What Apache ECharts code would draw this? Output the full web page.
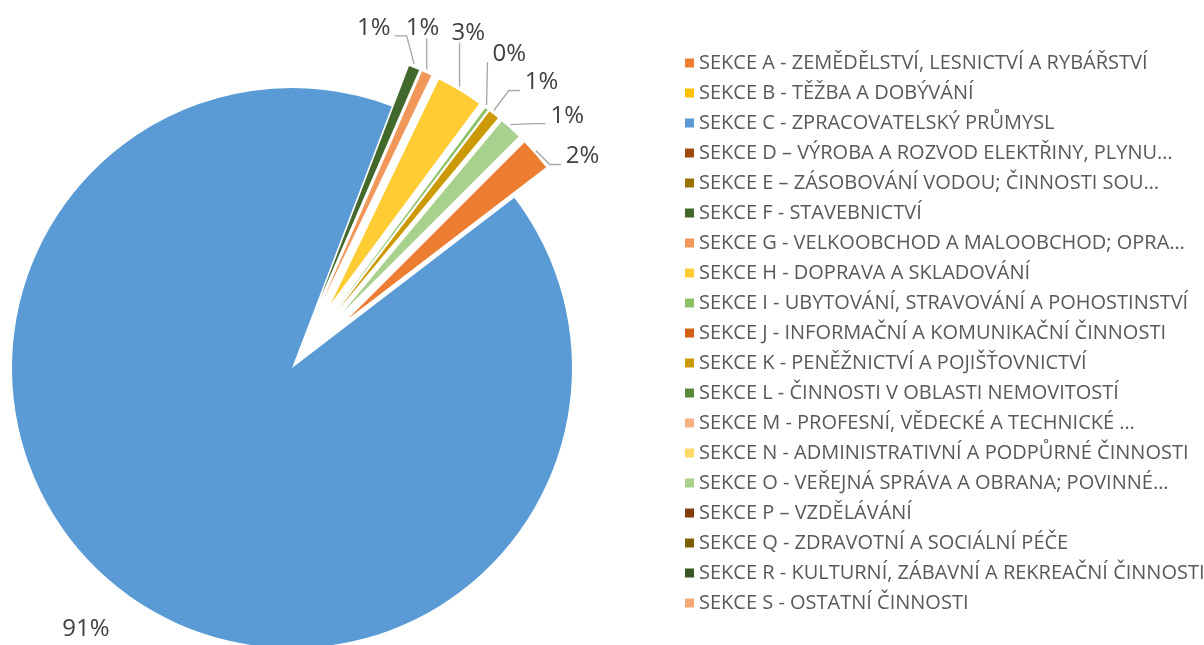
<!DOCTYPE html>
<html>
<head>
<meta charset="utf-8">
<script src="https://cdn.jsdelivr.net/npm/echarts@6/dist/echarts.min.js"></script>
<style>
  html, body { margin: 0; padding: 0; background: #ffffff; }
  #chart { width: 1204px; height: 645px; }
</style>
</head>
<body>
<div id="chart"></div>
<script>
// Sections of the economy (CZ-NACE) and their share of the total, in %
const categories = [
  'SEKCE A - ZEMĚDĚLSTVÍ, LESNICTVÍ A RYBÁŘSTVÍ',
  'SEKCE B - TĚŽBA A DOBÝVÁNÍ',
  'SEKCE C - ZPRACOVATELSKÝ PRŮMYSL',
  'SEKCE D – VÝROBA A ROZVOD ELEKTŘINY, PLYNU…',
  'SEKCE E – ZÁSOBOVÁNÍ VODOU; ČINNOSTI SOU…',
  'SEKCE F - STAVEBNICTVÍ',
  'SEKCE G - VELKOOBCHOD A MALOOBCHOD; OPRA…',
  'SEKCE H - DOPRAVA A SKLADOVÁNÍ',
  'SEKCE I - UBYTOVÁNÍ, STRAVOVÁNÍ A POHOSTINSTVÍ',
  'SEKCE J - INFORMAČNÍ A KOMUNIKAČNÍ ČINNOSTI',
  'SEKCE K - PENĚŽNICTVÍ A POJIŠŤOVNICTVÍ',
  'SEKCE L - ČINNOSTI V OBLASTI NEMOVITOSTÍ',
  'SEKCE M - PROFESNÍ, VĚDECKÉ A TECHNICKÉ …',
  'SEKCE N - ADMINISTRATIVNÍ A PODPŮRNÉ ČINNOSTI',
  'SEKCE O - VEŘEJNÁ SPRÁVA A OBRANA; POVINNÉ…',
  'SEKCE P – VZDĚLÁVÁNÍ',
  'SEKCE Q - ZDRAVOTNÍ A SOCIÁLNÍ PÉČE',
  'SEKCE R - KULTURNÍ, ZÁBAVNÍ A REKREAČNÍ ČINNOSTI',
  'SEKCE S - OSTATNÍ ČINNOSTI'
];

const shares = [2.1, 0, 91.2, 0, 0, 0.7, 0.65, 3.0, 0.2, 0, 0.7, 0, 0, 0, 1.45, 0, 0, 0, 0];

const colors = [
  '#ED7D31', '#FFC000', '#5B9BD5', '#9E480E', '#997300', '#43682B',
  '#F1975A', '#FFCD33', '#8CC168', '#D26012', '#CC9A06', '#5A8A39',
  '#F4B183', '#FFD966', '#A9D18E', '#843C0C', '#7F6000', '#375623',
  '#F3A875'
];

// Nudges (px) applied to the default outside label spot, per section index
const labelNudge = {
  0: [25, 2],
  2: [8, 13],
  5: [-62, -40],
  6: [-26, -45],
  7: [-13, -58],
  8: [1, -55],
  10: [26, -32],
  14: [35, -13]
};

// Which side of the label its leader line attaches to
const leaderSide = {
  0: 'right',
  5: 'left',
  6: 'top',
  7: 'top',
  8: 'corner',
  10: 'right',
  14: 'right'
};

const TRANSPARENT = 'rgba(0,0,0,0)';
const LABEL_GAP = 5; // default distance between line end and label text
const mainIndex = shares.indexOf(Math.max(...shares));

const pctLabel = p => Math.round(p.percent) + '%';

const labelFont = {
  fontFamily: 'Open Sans',
  fontSize: 24,
  color: '#404040'
};

const pieCenter = [292, 368];
const startAngle = 45;

// Leader line from the slice rim to the moved label (relative to the rim point)
function leaderPoints(params, n) {
  const side = leaderSide[params.dataIndex];
  const pts = params.labelLinePoints;
  if (!side || !pts) return null;
  const w = params.labelRect.width;
  const h = params.labelRect.height;
  const mx = pts[0][0];
  const my = pts[0][1] - 4;
  const left = mx + LABEL_GAP + n[0];
  const right = left + w;
  const cy = pts[0][1] + n[1];
  let end, elbow;
  if (side === 'right') {
    end = [left - 5, cy + 8];
    elbow = [end[0] - 11, end[1]];
  } else if (side === 'left') {
    end = [right + 4, cy + 8];
    elbow = [end[0] + 12, end[1]];
  } else if (side === 'top') {
    end = [mx, cy + h / 2 - 2];
    elbow = end;
  } else {
    end = [left - 5, cy + 8];
    elbow = end;
  }
  return [[mx, my], elbow, end];
}

function nudgeLabel(params) {
  const n = labelNudge[params.dataIndex];
  if (!n) return { hideOverlap: false };
  const out = { dx: n[0], dy: n[1], hideOverlap: false, moveOverlap: false };
  const line = leaderPoints(params, n);
  if (line) out.labelLinePoints = line;
  return out;
}

// Large slice stays in place
const mainData = categories.map((name, i) => ({
  name,
  value: shares[i],
  itemStyle: { color: i === mainIndex ? colors[i] : TRANSPARENT },
  label: { show: i === mainIndex },
  labelLine: { show: false }
}));

// Smaller slices are pulled out of the pie
const restData = categories.map((name, i) => ({
  name,
  value: shares[i],
  selected: i !== mainIndex && shares[i] > 0,
  itemStyle: { color: i === mainIndex ? TRANSPARENT : colors[i] },
  label: { show: i !== mainIndex && shares[i] > 0 },
  labelLine: { show: i !== mainIndex && shares[i] > 0 }
}));

const chart = echarts.init(document.getElementById('chart'), null, { renderer: 'canvas' });

chart.setOption({
  animation: false,
  backgroundColor: '#ffffff',
  legend: {
    orient: 'vertical',
    left: 680,
    top: 48,
    icon: 'rect',
    itemWidth: 9,
    itemHeight: 9,
    itemGap: 10,
    selectedMode: false,
    data: categories.map((name, i) => ({ name, itemStyle: { color: colors[i] } })),
    textStyle: {
      fontFamily: 'Open Sans',
      fontSize: 20,
      lineHeight: 20,
      color: '#595959'
    }
  },
  series: [
    {
      type: 'pie',
      center: pieCenter,
      radius: 280,
      startAngle: startAngle,
      clockwise: true,
      avoidLabelOverlap: false,
      silent: true,
      emphasis: { disabled: true },
      data: mainData,
      label: Object.assign({ position: 'outside', formatter: pctLabel }, labelFont),
      labelLine: { length: 30, length2: 0 },
      labelLayout: nudgeLabel
    },
    {
      type: 'pie',
      center: pieCenter,
      radius: 249,
      startAngle: startAngle,
      clockwise: true,
      selectedMode: 'multiple',
      selectedOffset: 75,
      avoidLabelOverlap: false,
      silent: true,
      emphasis: { disabled: true },
      data: restData,
      label: Object.assign({ position: 'outside', formatter: pctLabel }, labelFont),
      labelLine: {
        length: 0,
        length2: 0,
        lineStyle: { color: '#A6A6A6', width: 1.3 }
      },
      labelLayout: nudgeLabel
    }
  ]
});
</script>
</body>
</html>
